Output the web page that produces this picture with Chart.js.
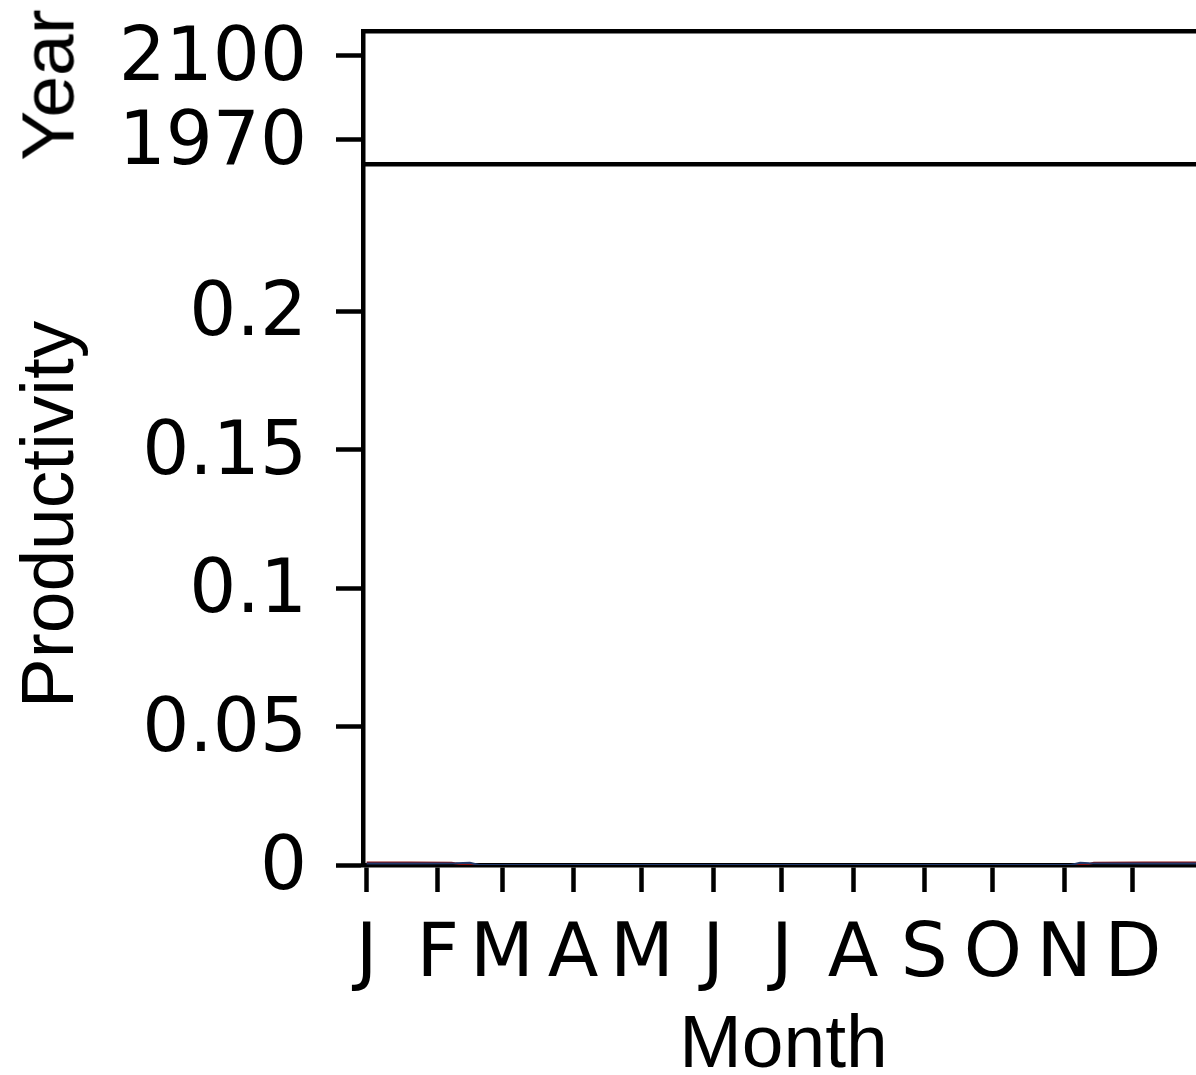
<!DOCTYPE html>
<html>
<head>
<meta charset="utf-8">
<script src="https://cdn.jsdelivr.net/npm/chart.js@4.4.1/dist/chart.umd.min.js"></script>
<style>
  html, body { margin: 0; padding: 0; background: #fff; overflow: hidden; width: 1196px; height: 1075px; }
  #wrap { position: relative; width: 1220px; height: 1075px; }
  canvas { position: absolute; left: 0; top: 0; }
  #yearTitle {
    position: absolute; left: 48px; top: 85px;
    font-family: "Liberation Sans", Arial, sans-serif; font-size: 75px; line-height: 1;
    white-space: nowrap; color: #000;
    transform: translate(-50%, -50%) rotate(-90deg);
  }
</style>
</head>
<body>
<div id="wrap">
  <canvas id="yearChart" width="1220" height="1075"></canvas>
  <canvas id="prodChart" width="1220" height="1075"></canvas>
  <div id="yearTitle">Year</div>
</div>
<script>
// Month ticks (day of year at the start of each month)
const monthStarts = [1, 32, 60, 91, 121, 152, 182, 213, 244, 274, 305, 335];
const monthLabels = ['J', 'F', 'M', 'A', 'M', 'J', 'J', 'A', 'S', 'O', 'N', 'D'];

// Year panel ticks
const yearTicks = [1970, 2100];
const yearTickLabels = ['1970', '2100'];

// Productivity ticks
const prodTicks = [0, 0.05, 0.1, 0.15, 0.2];
const prodTickLabels = ['0', '0.05', '0.1', '0.15', '0.2'];

// Daily productivity curves (day of year, value)
const days1970 = [1, 20, 40, 46, 50, 120, 200, 280, 308, 312, 316, 340, 366];
const prod1970 = [0.0005, 0.0005, 0.0006, 0.0008, 0, 0, 0, 0, 0, 0.0008, 0.0006, 0.0005, 0.0005];
const days2100 = [1, 20, 38, 44, 120, 200, 280, 314, 318, 340, 366];
const prod2100 = [0.0009, 0.0009, 0.0008, 0, 0, 0, 0, 0, 0.0008, 0.0009, 0.0009];

const TICK_FONT = { family: 'DejaVu Sans', size: 74, lineHeight: 1.2 };
const TITLE_FONT = { family: 'Liberation Sans', size: 75, lineHeight: 1 };
const AXIS_W = 4.5;
const LEFT = 363;
const X_MIN = -0.6, X_MAX = 366;

function pts(xs, ys) { return xs.map((d, i) => ({ x: d, y: ys[i] })); }

// keep the plot area edges exactly where the layout padding puts them
function noEdgePadding(s) {
  s.paddingTop = 0; s.paddingBottom = 0; s.paddingLeft = 0; s.paddingRight = 0;
}

// Top panel: year axis
new Chart(document.getElementById('yearChart'), {
  type: 'line',
  data: { datasets: [] },
  options: {
    responsive: false, animation: false, devicePixelRatio: 1,
    layout: { padding: { top: 31.5, bottom: 1075 - 164, right: 16, left: 0 } },
    plugins: { legend: { display: false }, tooltip: { enabled: false } },
    scales: {
      x: {
        type: 'linear', position: 'top', min: X_MIN, max: X_MAX,
        ticks: { display: false },
        grid: { display: true, drawOnChartArea: false, drawTicks: false },
        border: { display: true, color: '#000', width: AXIS_W },
        afterFit: s => { s.height = 0; noEdgePadding(s); }
      },
      y: {
        type: 'linear', min: 1932, max: 2138,
        afterBuildTicks: s => { s.ticks = yearTicks.map(v => ({ value: v })); },
        afterFit: s => { s.width = LEFT; noEdgePadding(s); },
        ticks: {
          color: '#000', font: TICK_FONT, padding: 29, labelOffset: 5,
          callback: (v, i) => yearTickLabels[i]
        },
        grid: { drawOnChartArea: false, drawTicks: true, tickLength: 27, tickWidth: AXIS_W, tickColor: '#000' },
        border: { display: true, color: '#000', width: AXIS_W }
      }
    }
  }
});

// Bottom panel: productivity through the year
new Chart(document.getElementById('prodChart'), {
  type: 'line',
  data: {
    datasets: [
      { label: '1970', data: pts(days1970, prod1970), borderColor: '#22396b', borderWidth: 2, pointRadius: 0, tension: 0, fill: false },
      { label: '2100', data: pts(days2100, prod2100), borderColor: '#8b0d0d', borderWidth: 2, pointRadius: 0, tension: 0, fill: false }
    ]
  },
  options: {
    responsive: false, animation: false, devicePixelRatio: 1,
    layout: { padding: { top: 164, bottom: 0, right: 16, left: 0 } },
    plugins: { legend: { display: false }, tooltip: { enabled: false } },
    scales: {
      x: {
        type: 'linear', position: 'bottom', min: X_MIN, max: X_MAX, z: 1,
        afterBuildTicks: s => { s.ticks = monthStarts.map(v => ({ value: v })); },
        afterFit: s => { s.height = 1075 - 865; noEdgePadding(s); },
        ticks: {
          color: '#000', font: TICK_FONT, padding: 20, autoSkip: false, maxRotation: 0, minRotation: 0,
          callback: (v, i) => monthLabels[i]
        },
        grid: { drawOnChartArea: false, drawTicks: true, tickLength: 27, tickWidth: AXIS_W, tickColor: '#000' },
        border: { display: true, color: '#000', width: AXIS_W },
        title: { display: true, text: 'Month', color: '#000', font: TITLE_FONT, padding: { top: 0, bottom: -8.5 } }
      },
      xTop: {
        type: 'linear', position: 'top', min: X_MIN, max: X_MAX,
        ticks: { display: false },
        grid: { display: true, drawOnChartArea: false, drawTicks: false },
        border: { display: true, color: '#000', width: AXIS_W },
        afterFit: s => { s.height = 0; noEdgePadding(s); }
      },
      y: {
        type: 'linear', min: 0, max: 0.2531, z: 1,
        afterBuildTicks: s => { s.ticks = prodTicks.map(v => ({ value: v })); },
        afterFit: s => { s.width = LEFT; noEdgePadding(s); },
        ticks: {
          color: '#000', font: TICK_FONT, padding: 29, labelOffset: 5,
          callback: (v, i) => prodTickLabels[i]
        },
        grid: { drawOnChartArea: false, drawTicks: true, tickLength: 27, tickWidth: AXIS_W, tickColor: '#000' },
        border: { display: true, color: '#000', width: AXIS_W },
        title: { display: true, text: 'Productivity', color: '#000', font: TITLE_FONT, padding: { top: 15, bottom: 0 } }
      }
    }
  }
});
</script>
</body>
</html>
